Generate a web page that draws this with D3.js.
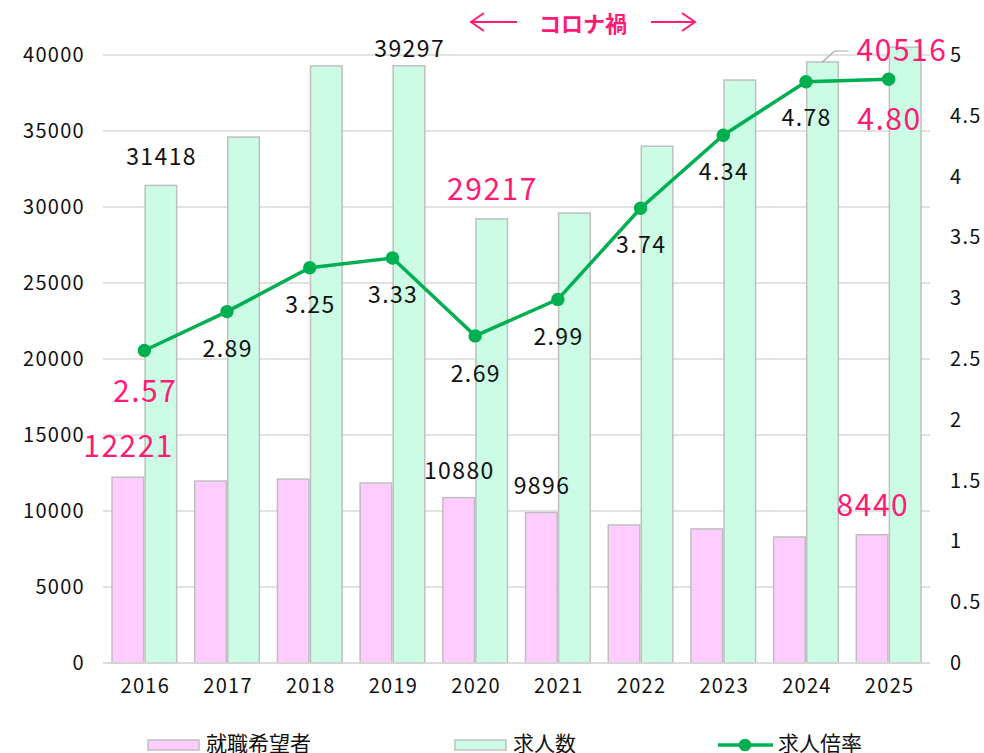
<!DOCTYPE html>
<html>
<head>
<meta charset="utf-8">
<script src="https://cdn.jsdelivr.net/npm/d3@7"></script>
<style>
  body { margin: 0; background: #fff; }
  svg text { font-family: "Noto Sans CJK JP", "Noto Sans", sans-serif; }
</style>
</head>
<body>
<svg id="chart"></svg>
<script>
const years = ["2016", "2017", "2018", "2019", "2020", "2021", "2022", "2023", "2024", "2025"];
const seekers = [12221, 11970, 12100, 11840, 10880, 9896, 9080, 8820, 8290, 8440];
const openings = [31418, 34600, 39280, 39297, 29217, 29600, 34000, 38350, 39540, 40516];
const ratio = [2.57, 2.89, 3.25, 3.33, 2.69, 2.99, 3.74, 4.34, 4.78, 4.80];
const leftTicks = [0, 5000, 10000, 15000, 20000, 25000, 30000, 35000, 40000];
const rightTicks = [0, 0.5, 1, 1.5, 2, 2.5, 3, 3.5, 4, 4.5, 5];
const seriesNames = ["就職希望者", "求人数", "求人倍率"];

const W = 984, H = 753;
const pink = "#ff1a75";
const svg = d3.select("#chart").attr("width", W).attr("height", H);

const pLeft = 103, pRight = 930, pTop = 55, pBottom = 663;

const x0 = d3.scaleBand().domain(years).range([pLeft, pRight]).paddingInner(0.2).paddingOuter(0.1);
const x1 = d3.scaleBand().domain([0, 1]).range([0, x0.bandwidth()]);
const yL = d3.scaleLinear().domain([0, 40000]).range([pBottom, pTop]);
const yR = d3.scaleLinear().domain([0, 5]).range([pBottom, pTop]);
const cx = d => x0(d) + x0.bandwidth() / 2;

// gridlines
svg.append("g")
    .selectAll("line")
    .data(leftTicks)
    .enter().append("line")
    .attr("x1", pLeft).attr("x2", pRight)
    .attr("y1", d => yL(d)).attr("y2", d => yL(d))
    .attr("stroke", "#d9d9d9").attr("stroke-width", 1.5);

function tickStyle(sel) {
    sel.select(".domain").remove();
    sel.selectAll("text")
        .style("font-size", "20px")
        .style("letter-spacing", "1.3px")
        .attr("fill", "#111");
}

// axes
svg.append("g")
    .attr("transform", `translate(${pLeft},0)`)
    .call(d3.axisLeft(yL).tickValues(leftTicks).tickSize(0).tickPadding(18).tickFormat(d3.format("d")))
    .call(tickStyle);

svg.append("g")
    .attr("transform", `translate(${pRight},0)`)
    .call(d3.axisRight(yR).tickValues(rightTicks).tickSize(0).tickPadding(20).tickFormat(d => String(d)))
    .call(tickStyle);

svg.append("g")
    .attr("transform", `translate(1,${pBottom})`)
    .call(d3.axisBottom(x0).tickSize(0).tickPadding(16))
    .call(tickStyle);

// bars
const barData = years.map((y, i) => ({ year: y, vals: [seekers[i], openings[i]] }));
const fills = ["#ffccff", "#ccfce6"];
svg.append("g").selectAll("g")
    .data(barData)
    .enter().append("g")
    .attr("transform", d => `translate(${x0(d.year)},0)`)
    .selectAll("rect")
    .data(d => d.vals.map((v, k) => ({ k, v })))
    .enter().append("rect")
    .attr("x", d => x1(d.k) + 0.75)
    .attr("y", d => yL(d.v))
    .attr("width", x1.bandwidth() - 1.5)
    .attr("height", d => pBottom - yL(d.v))
    .attr("fill", d => fills[d.k])
    .attr("stroke", "#bfbfbf")
    .attr("stroke-width", 1.5);

// x baseline
svg.append("line")
    .attr("x1", pLeft).attr("x2", pRight)
    .attr("y1", pBottom).attr("y2", pBottom)
    .attr("stroke", "#d9d9d9").attr("stroke-width", 1.5);

// line series
const line = d3.line().x((d, i) => cx(years[i])).y(d => yR(d));
svg.append("path")
    .datum(ratio)
    .attr("d", line)
    .attr("fill", "none")
    .attr("stroke", "#00b050")
    .attr("stroke-width", 3.5);
svg.append("g").selectAll("circle")
    .data(ratio)
    .enter().append("circle")
    .attr("cx", (d, i) => cx(years[i]))
    .attr("cy", d => yR(d))
    .attr("r", 6.7)
    .attr("fill", "#00b050");

// data labels
function label(xp, yp, txt, hi) {
    svg.append("text")
        .attr("x", xp + (hi ? 0.8 : 0.7)).attr("y", yp)
        .attr("text-anchor", "middle")
        .attr("dominant-baseline", "central")
        .style("font-size", hi ? "30px" : "23px")
        .style("letter-spacing", hi ? "1.5px" : "1.4px")
        .attr("fill", hi ? pink : "#111")
        .text(txt);
}

// ratio labels: vertical offsets below the point
const ratioOff = [39, 35, 35, 35, 36, 36, 35, 35, 34, 38];
const ratioHi = [true, false, false, false, false, false, false, false, false, true];
ratio.forEach((r, i) => {
    label(cx(years[i]), yR(r) + ratioOff[i], r.toFixed(2), ratioHi[i]);
});

// bar labels (selected)
const gx = i => x0(years[i]) + x1(1) + x1.bandwidth() / 2;
const px = i => x0(years[i]) + x1(0) + x1.bandwidth() / 2;
label(gx(0), yL(openings[0]) - 30, String(openings[0]), false);
label(gx(3), yL(openings[3]) - 19, String(openings[3]), false);
label(gx(4), yL(openings[4]) - 32, String(openings[4]), true);
label(px(0), yL(seekers[0]) - 33, String(seekers[0]), true);
label(px(4), yL(seekers[4]) - 29, String(seekers[4]), false);
label(px(5), yL(seekers[5]) - 29, String(seekers[5]), false);
label(px(9), yL(seekers[9]) - 32, String(seekers[9]), true);

// 40516 callout
const calloutX = gx(9) - 4, calloutY = 48;
label(calloutX, calloutY, String(openings[9]), true);
svg.append("polyline")
    .attr("points", `${gx(8)},${yL(openings[8])} ${gx(8) + 12},${calloutY + 3} ${gx(8) + 26},${calloutY + 3}`)
    .attr("fill", "none")
    .attr("stroke", "#a6a6a6")
    .attr("stroke-width", 1.2);

// コロナ禍 annotation
const ann = svg.append("g");
ann.append("text")
    .attr("x", 583).attr("y", 22)
    .attr("text-anchor", "middle")
    .attr("dominant-baseline", "central")
    .style("font-size", "22px")
    .style("font-weight", "bold")
    .attr("fill", pink)
    .text("コロナ禍");
[[517, 471], [651, 695]].forEach(([a, b]) => {
    ann.append("line").attr("x1", a).attr("x2", b).attr("y1", 22).attr("y2", 22)
        .attr("stroke", pink).attr("stroke-width", 2);
    const s = b > a ? -1 : 1;
    ann.append("polyline")
        .attr("points", `${b + s * 13},${13} ${b},22 ${b + s * 13},${31}`)
        .attr("fill", "none").attr("stroke", pink).attr("stroke-width", 2);
});

// legend
const lg = svg.append("g").attr("transform", "translate(0,745)");
[[148, 0], [455, 1]].forEach(([lx, k]) => {
    lg.append("rect")
        .attr("x", lx).attr("y", -5).attr("width", 51).attr("height", 10)
        .attr("fill", fills[k]).attr("stroke", "#bfbfbf").attr("stroke-width", 1.5);
    lg.append("text")
        .attr("x", lx + 58).attr("y", -3)
        .attr("dominant-baseline", "central")
        .style("font-size", "21px").attr("fill", "#111")
        .text(seriesNames[k]);
});
lg.append("line").attr("x1", 718).attr("x2", 773).attr("y1", 0).attr("y2", 0)
    .attr("stroke", "#00b050").attr("stroke-width", 3.5);
lg.append("circle").attr("cx", 745).attr("cy", 0).attr("r", 6.3).attr("fill", "#00b050");
lg.append("text")
    .attr("x", 778).attr("y", -3)
    .attr("dominant-baseline", "central")
    .style("font-size", "21px").attr("fill", "#111")
    .text(seriesNames[2]);
</script>
</body>
</html>
